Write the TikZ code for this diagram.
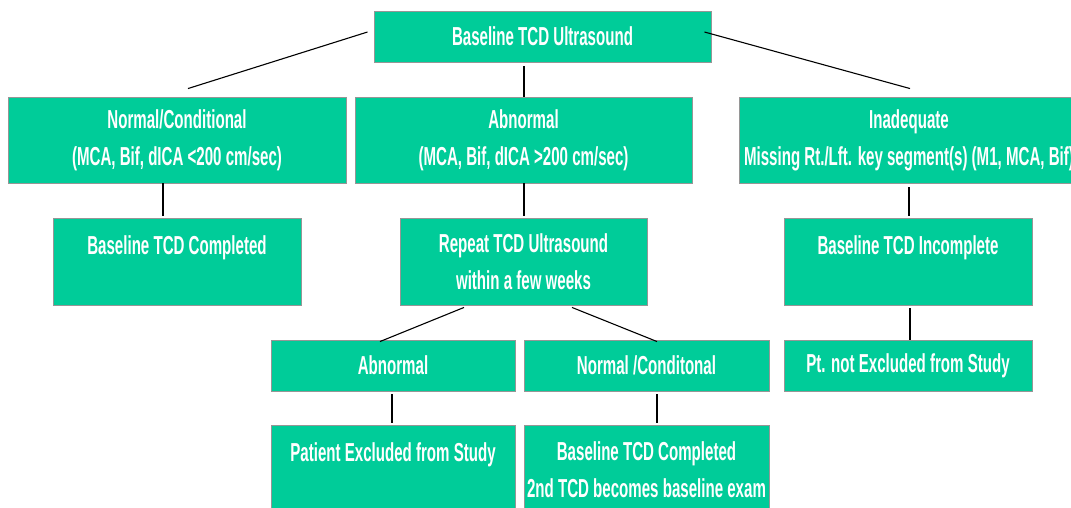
\documentclass[tikz,border=0pt]{standalone}
\usepackage{fontspec}
\usepackage{tikz}
\newfontfamily\tcdfont[FakeStretch=0.58]{Liberation Sans}
\definecolor{tcdgreen}{RGB}{0,204,153}
\definecolor{tcdedge}{RGB}{150,150,150}

\begin{document}
\begin{tikzpicture}[x=1pt,y=-1pt,
		box/.style={draw=tcdedge,line width=0.9pt,fill=tcdgreen,text=white,align=center,inner sep=0pt,
			font={\tcdfont\bfseries\fontsize{26}{37}\selectfont}},
		wide/.style={box,minimum width=#1,minimum height=86},
		topbox/.style={box,minimum width=#1,text height=36.3pt},
		link/.style={draw=black,line width=1.1pt}]
		\clip (0,0) rectangle (1071,508);
		\node[box,minimum width=337,minimum height=51] (root) at (542.5,36.5) {Baseline TCD Ultrasound};
		\node[wide=338] (normal) at (177,140) {Normal/Conditional\\(MCA, Bif, dICA <200 cm/sec)};
		\node[wide=337] (abn) at (523.5,140) {Abnormal\\(MCA, Bif, dICA >200 cm/sec)};
		\node[wide=340] (inad) at (909,140) {Inadequate\\Missing Rt./Lft. key segment(s) (M1, MCA, Bif)};
		\node[topbox=248,text depth=50.7pt] (done1) at (177,261.5) {Baseline TCD Completed};
		\node[box,minimum width=247,minimum height=87] (repeat) at (523.5,261.5) {Repeat TCD Ultrasound\\within a few weeks};
		\node[topbox=248,text depth=50.7pt] (incomp) at (908,261.5) {Baseline TCD Incomplete};
		\node[box,minimum width=244,minimum height=51] (abn2) at (393,365.5) {Abnormal};
		\node[box,minimum width=245,minimum height=51] (norm2) at (646.5,365.5) {Normal /Conditonal};
		\node[box,minimum width=248,minimum height=51] (notexcl) at (908,365.5) {Pt. not Excluded from Study};
		\node[topbox=244,text depth=53.7pt] (excl) at (393,470) {Patient Excluded from Study};
		\node[box,minimum width=245,minimum height=90] (done2) at (646.5,470) {Baseline TCD Completed\\2nd TCD becomes baseline exam};
		\draw[link] ([xshift=-6pt,yshift=4.5pt]root.west) -- ([xshift=11pt,yshift=8pt]normal.north);
		\draw[link] ([xshift=-7pt,yshift=4.5pt]root.east) -- ([xshift=1pt,yshift=8pt]inad.north);
		\draw[link] ([xshift=-18.5pt,yshift=-4pt]root.south) -- ([xshift=0.5pt]abn.north);
		\draw[link] ([xshift=-14pt]normal.south) -- ([xshift=-14pt,yshift=2pt]done1.north);
		\draw[link] ([xshift=0.5pt]abn.south) -- ([xshift=0.5pt,yshift=2pt]repeat.north);
		\draw[link] ([yshift=-4pt]inad.south) -- ([xshift=1pt,yshift=2pt]incomp.north);
		\draw[link] ([xshift=-59.5pt,yshift=-2pt]repeat.south) -- ([xshift=-13pt,yshift=-2pt]abn2.north);
		\draw[link] ([xshift=48.5pt,yshift=-2pt]repeat.south) -- ([xshift=10.5pt,yshift=-2pt]norm2.north);
		\draw[link] ([xshift=-1pt,yshift=-3pt]abn2.south) -- ([xshift=-1pt,yshift=2pt]excl.north);
		\draw[link] ([xshift=10.5pt,yshift=-3pt]norm2.south) -- ([xshift=10.5pt,yshift=2pt]done2.north);
		\draw[link] ([xshift=2pt,yshift=-3pt]incomp.south) -- ([xshift=2pt]notexcl.north);
	\end{tikzpicture}
\end{document}
